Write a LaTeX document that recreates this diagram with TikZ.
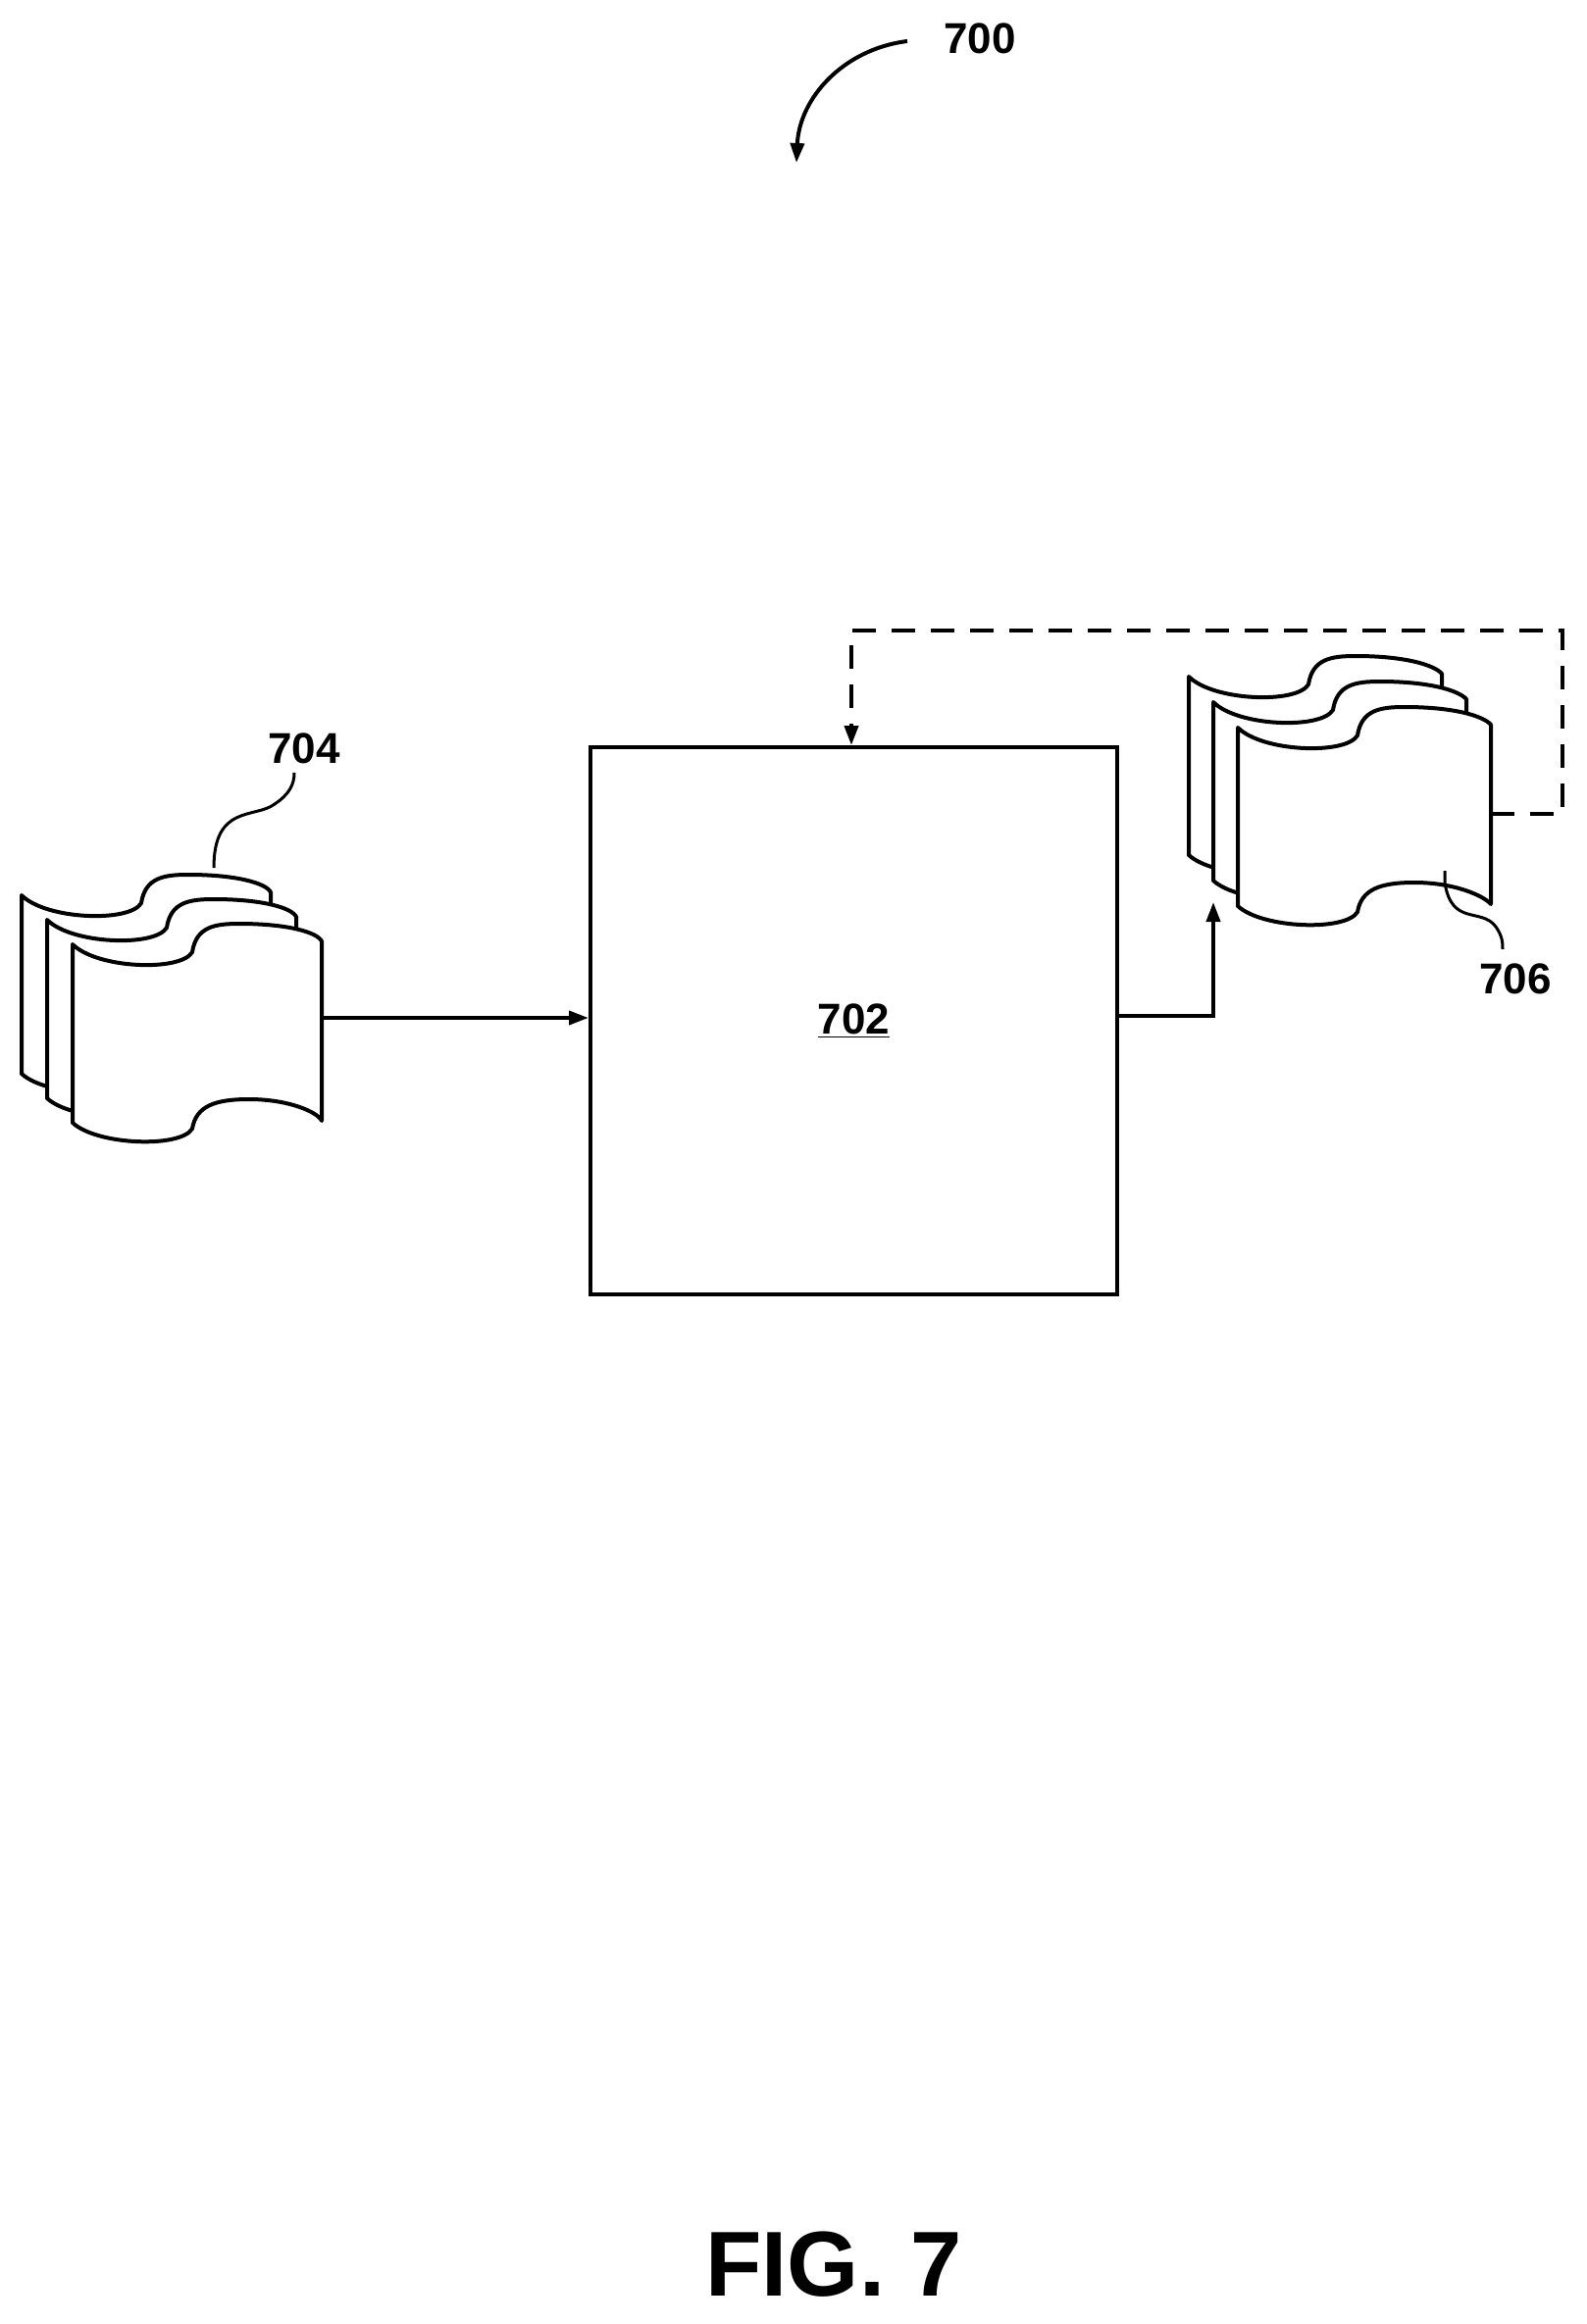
\documentclass[tikz,border=0pt]{standalone}
\usepackage{fontspec}
\setmainfont{Liberation Sans}
\usetikzlibrary{arrows.meta}
\begin{document}
\begin{tikzpicture}[x=0.5pt,y=-0.5pt,line width=2pt,
  lab/.style={font=\fontsize{22}{26}\selectfont\bfseries},
  arr/.style={-{Triangle[length=10pt,width=7pt]}},
  sheet/.pic={
    \filldraw[fill=white,line join=round]
      (0,0) .. controls (25,25) and (110,28) .. (122,8)
      .. controls (126,-18) and (145,-21) .. (170,-21)
      .. controls (220,-21) and (250,-12) .. (\W,-3)
      -- (\W,180)
      .. controls (250,171) and (220,158) .. (180,158)
      .. controls (145,158) and (126,165) .. (122,188)
      .. controls (110,208) and (25,205) .. (0,182) -- cycle;
  }]
\useasboundingbox (0,0) rectangle (1617,2370);
\def\W{254}
\pic at (22,913) {sheet};
\pic at (48,938) {sheet};
\pic at (74,963) {sheet};
\coordinate (s704out) at (328,1038);
\def\W{258}
\pic at (1212,690) {sheet};
\pic at (1237,716) {sheet};
\pic at (1262,742) {sheet};
\coordinate (s706in) at (1237,920);
\coordinate (s706r) at (1520,830);
\node[draw,minimum width=268.5pt,minimum height=279pt,anchor=north west,inner sep=0] (b) at (600,760) {};
\node[lab] (l702) at (b.center) {\underline{702}};
\draw[arr] (s704out) -- (s704out -| b.west);
\coordinate (c1) at (1237,1036);
\draw[arr] (c1 -| b.east) -- (c1) -- (s706in);
\coordinate (d1) at (1593,830);
\coordinate (d2) at (1593,643);
\coordinate (d3) at (868,643);
\draw[arr,dash pattern=on 12pt off 8pt] (s706r) -- (d1) -- (d2) -- (d3) -- (d3 |- b.north);
\node[lab] (l704) at (310,763) {704};
\coordinate (p704) at (218,885);
\draw[line width=1.5pt] (p704) .. controls (218,820) and (260,835) .. (280,820) .. controls (295,810) and (300,800) .. (300,788);
\node[lab] (l706) at (1545,998) {706};
\coordinate (p706) at (1473,888);
\draw[line width=1.5pt] (p706) -- (1473,900) .. controls (1480,945) and (1510,925) .. (1525,945) .. controls (1532,955) and (1532,962) .. (1532,968);
\node[lab] (l700) at (999,39) {700};
\coordinate (a700) at (812,166);
\draw[arr] (925,42) .. controls (860,50) and (815,100) .. (a700);
\node[font=\fontsize{47}{56}\selectfont\bfseries] (fig) at (850,2309) {FIG. 7};
\end{tikzpicture}
\end{document}
